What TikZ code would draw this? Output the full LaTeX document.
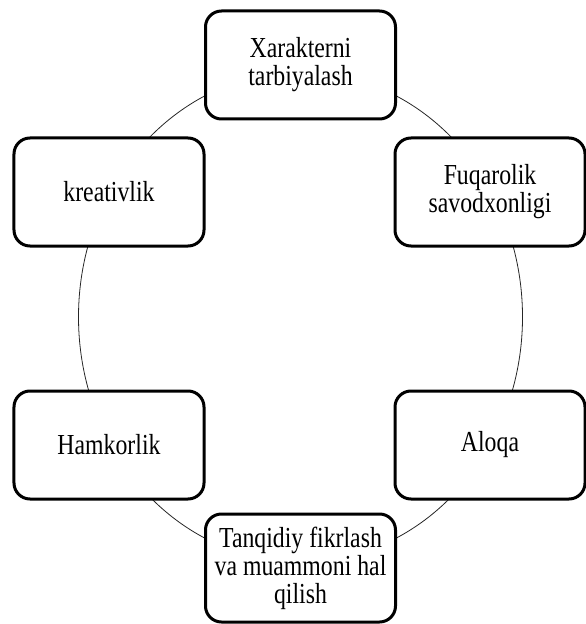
\documentclass[tikz,border=0pt]{standalone}
\usepackage{fontspec}
\setmainfont{Liberation Serif}[FakeStretch=0.82]
\usepackage{tikz}

\begin{document}
\begin{tikzpicture}[
		%Global config
		x=1bp,
		y=-1bp,
		line width=1pt,
		color = black,
		%Styles
		Skill/.style={
			draw,
			fill=white,
			line width=3bp,
			rounded corners=16bp,
			minimum width=190bp,
			minimum height=108bp,
			align=center,
			inner sep=2pt,
			font=\fontsize{29bp}{28bp}\selectfont,
		},
		Ring/.style={
			line width=0.8bp,
			color=black!85
			}
		]
		
		\useasboundingbox (0,0) rectangle (586,624);
		
		\coordinate (O) at (300.5,317);
		\draw[Ring] (O) ellipse [x radius=222, y radius=245]; % the ring behind the boxes
		
		\node[Skill] (Char) at (300.5,65) {Xarakterni\\tarbiyalash};
		\node[Skill] (Civic) at (490,192) {Fuqarolik\\savodxonligi};
		\node[Skill] (Comm) at (490,445) {Aloqa};
		\node[Skill] (Crit) at (300.5,568) {Tanqidiy fikrlash\\va muammoni hal\\qilish};
		\node[Skill] (Collab) at (109,445) {Hamkorlik};
		\node[Skill] (Creat) at (109,192) {kreativlik};
	\end{tikzpicture}
\end{document}
